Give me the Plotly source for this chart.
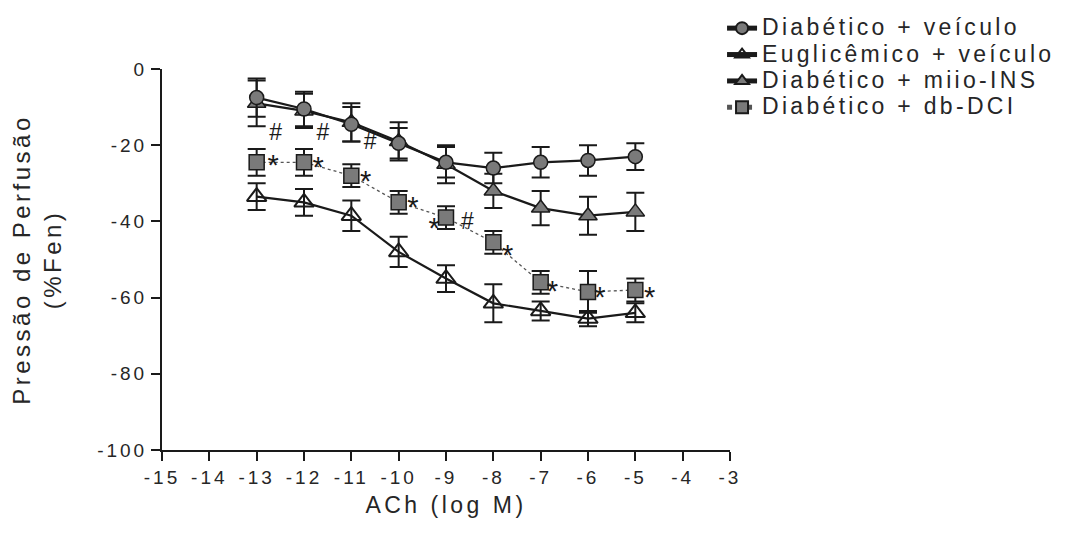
import plotly.graph_objects as go

conc = [-13, -12, -11, -10, -9, -8, -7, -6, -5]

diab_veic = [-7.5, -10.5, -14.5, -19.5, -24.5, -26, -24.5, -24, -23]
diab_veic_err = [5, 4.5, 4.5, 4, 4, 4, 4, 4, 3.5]

eugli_veic = [-33.5, -35, -38.5, -48, -55, -61.5, -63.5, -65.5, -64]
eugli_veic_err = [3.5, 3.5, 4, 4, 3.5, 5, 2.5, 2, 2.5]

diab_mioins = [-9, -11, -14, -19, -25, -32, -36.5, -38.5, -37.5]
diab_mioins_err = [6, 4.5, 5, 5, 5, 4.5, 4.5, 5, 5]

diab_dbdci = [-24.5, -24.5, -28, -35, -39, -45.5, -56, -58.5, -58]
diab_dbdci_err = [3.5, 3.5, 3, 3, 3, 3, 3, 5.5, 3]

hash_x = [-12.6, -11.6, -10.6, -8.55]
hash_y = [-17, -17, -19.5, -40.5]
star_x = [-12.65, -11.7, -10.7, -9.7, -9.25, -7.7, -6.75, -5.75, -4.7]
star_y = [-26, -26.5, -30, -37, -42.5, -49.5, -59, -60.5, -60.5]

xticks = [-15, -14, -13, -12, -11, -10, -9, -8, -7, -6, -5, -4, -3]
xtick_text = ["-15", "-14", "-13", "-12", "-11", "-10", "-9", "-8", "-7", "-6", "-5", "-4", "-3"]
yticks = [0, -20, -40, -60, -80, -100]
ytick_text = ["0", "-20", "-40", "-60", "-80", "-100"]

FONT = "Liberation Sans, Arial, sans-serif"
INK = "#1a1a1a"
TXT = "#262626"
FILL = "#7a7a7a"

fig = go.Figure()

def err(vals):
    return dict(type="data", array=vals, visible=True, color=INK, thickness=2, width=9)

fig.add_trace(go.Scatter(
    x=conc, y=eugli_veic, name="Euglicêmico + veículo", mode="lines+markers",
    line=dict(color=INK, width=2.2),
    marker=dict(symbol="triangle-up-open", size=17, color=INK, line=dict(width=2, color=INK)),
    error_y=err(eugli_veic_err), legendrank=2))

fig.add_trace(go.Scatter(
    x=conc, y=diab_dbdci, name="Diabético + db-DCI", mode="lines+markers",
    line=dict(color="#555555", width=1.3, dash="dot"),
    marker=dict(symbol="square", size=15, color=FILL, line=dict(width=1.5, color=INK)),
    error_y=err(diab_dbdci_err), legendrank=4))

fig.add_trace(go.Scatter(
    x=conc, y=diab_mioins, name="Diabético + miio-INS", mode="lines+markers",
    line=dict(color=INK, width=2.2),
    marker=dict(symbol="triangle-up", size=16, color=FILL, line=dict(width=1.5, color=INK)),
    error_y=err(diab_mioins_err), legendrank=3))

fig.add_trace(go.Scatter(
    x=conc, y=diab_veic, name="Diabético + veículo", mode="lines+markers",
    line=dict(color=INK, width=2.2),
    marker=dict(symbol="circle", size=14, color=FILL, line=dict(width=1.5, color=INK)),
    error_y=err(diab_veic_err), legendrank=1))

fig.add_trace(go.Scatter(
    x=hash_x, y=hash_y, mode="text", text=["#"] * len(hash_x), showlegend=False,
    textfont=dict(family=FONT, size=23, color=INK), hoverinfo="skip"))
fig.add_trace(go.Scatter(
    x=star_x, y=star_y, mode="text", text=["*"] * len(star_x), showlegend=False,
    textfont=dict(family=FONT, size=29, color=INK), hoverinfo="skip"))

axis_common = dict(
    showgrid=False, zeroline=False, showline=True, linecolor=INK, linewidth=2,
    ticks="outside", ticklen=9, tickwidth=1.5, tickcolor=INK, automargin=False,
    tickfont=dict(family=FONT, size=19, color=TXT),
)

fig.update_layout(
    width=1067, height=542,
    paper_bgcolor="white", plot_bgcolor="white",
    margin=dict(l=162, r=337, t=69, b=92, autoexpand=False),
    font=dict(family=FONT, color=TXT),
    xaxis=dict(range=[-15, -3], tickvals=xticks, ticktext=xtick_text,
               title=dict(text="ACh (log M)", font=dict(family=FONT, size=23, color=TXT), standoff=10),
               **axis_common),
    yaxis=dict(range=[-100, 0], tickvals=yticks, ticktext=ytick_text,
               title=dict(text="Pressão de Perfusão<br>(%Fen)", font=dict(family=FONT, size=24, color=TXT), standoff=41),
               **axis_common),
    legend=dict(x=0.986, y=1.155, xanchor="left", yanchor="top",
                font=dict(family=FONT, size=18, color=TXT),
                bgcolor="rgba(0,0,0,0)", tracegroupgap=0, itemsizing="constant"),
    showlegend=True,
)

css = ("body{margin:0} "
       ".legendtext{letter-spacing:3.3px;font-size:23px !important} "
       ".xtick text,.ytick text{letter-spacing:3px} "
       ".xtitle,.ytitle{letter-spacing:3.5px}")
post = ("var st=document.createElement('style');st.textContent='" + css + "';"
        "document.head.appendChild(st);"
        "var gd=document.getElementById('{plot_id}');"
        "gd.layout.legend.font.color='#262627';"
        "Plotly.newPlot(gd, gd.data, gd.layout, {displayModeBar:false, responsive:false});")

fig.write_html("out.html", post_script=post, config={"displayModeBar": False})
